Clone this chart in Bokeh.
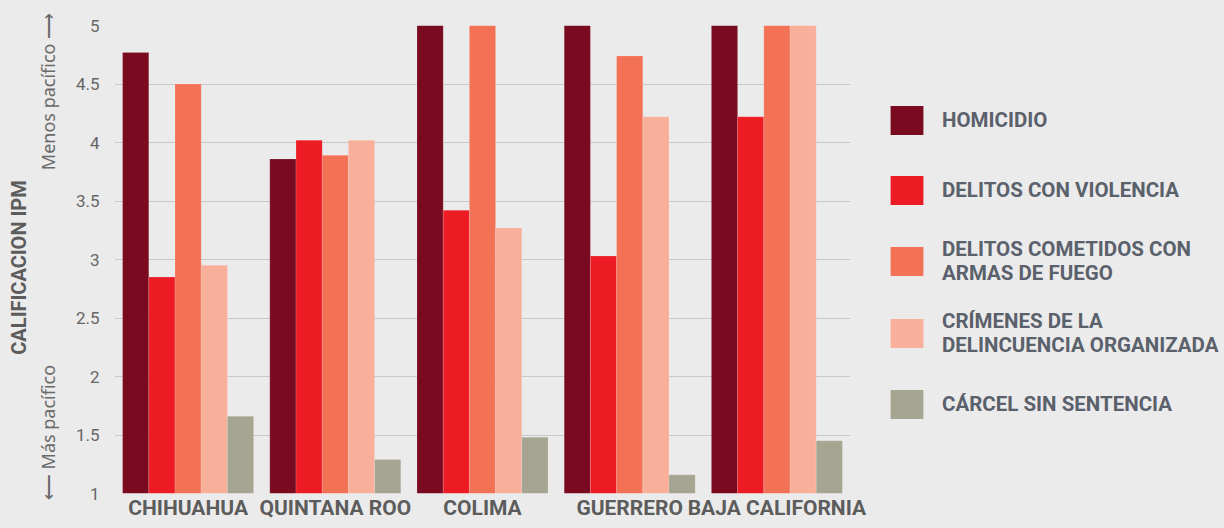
from math import pi
from bokeh.plotting import figure
from bokeh.layouts import row
from bokeh.models import (ColumnDataSource, FactorRange, Range1d, FixedTicker, Legend,
                          LegendItem, Label)
from bokeh.transform import dodge
from bokeh.embed import file_html
from bokeh.resources import INLINE

states = ["CHIHUAHUA", "QUINTANA ROO", "COLIMA", "GUERRERO", "BAJA CALIFORNIA"]
homicidio = [4.77, 3.86, 5.0, 5.0, 5.0]
violencia = [2.85, 4.02, 3.42, 3.03, 4.22]
armas = [4.50, 3.89, 5.0, 4.74, 5.0]
crimen = [2.95, 4.02, 3.27, 4.22, 5.0]
carcel = [1.66, 1.29, 1.48, 1.16, 1.45]

series_names = ["HOMICIDIO", "DELITOS CON VIOLENCIA", "DELITOS COMETIDOS CON\nARMAS DE FUEGO",
                "CRÍMENES DE LA\nDELINCUENCIA ORGANIZADA", "CÁRCEL SIN SENTENCIA"]
series_keys = ["homicidio", "violencia", "armas", "crimen", "carcel"]
colors = ["#7a0a20", "#ed1c24", "#f37155", "#f9b09a", "#a6a592"]

y_ticks = [1, 1.5, 2, 2.5, 3, 3.5, 4, 4.5, 5]
y_tick_labels = ["1", "1.5", "2", "2.5", "3", "3.5", "4", "4.5", "5"]

BG = "#ebebeb"
FONT = "Roboto"
NOTE_FONT = "Noto Sans"
H = 528

src = ColumnDataSource(dict(state=states, homicidio=homicidio, violencia=violencia,
                            armas=armas, crimen=crimen, carcel=carcel))


def plain(fig):
    fig.background_fill_color = BG
    fig.border_fill_color = BG
    fig.outline_line_color = None


# ---- left strip with axis title and direction notes
lt = figure(width=60, height=H, output_backend="svg", toolbar_location=None,
            x_range=Range1d(0, 1), y_range=Range1d(0, 1), frame_align=False,
            min_border_left=0, min_border_right=0, min_border_top=0, min_border_bottom=0)
plain(lt)
lt.axis.visible = False
lt.grid.grid_line_color = None
lt.add_layout(Label(x=18.5, y=261, x_units="screen", y_units="screen", text="CALIFICACION IPM",
                    angle=pi / 2, text_align="center", text_baseline="middle",
                    text_font=FONT, text_font_style="bold", text_font_size="20px",
                    text_color="#5c5c5c"))
lt.add_layout(Label(x=47.5, y=437, x_units="screen", y_units="screen", text="Menos pacífico \u27f6",
                    angle=pi / 2, text_align="center", text_baseline="middle",
                    text_font=NOTE_FONT, text_font_size="18px", text_color="#6a6a6a"))
lt.add_layout(Label(x=47.5, y=96, x_units="screen", y_units="screen", text="\u27f5 Más pacífico",
                    angle=pi / 2, text_align="center", text_baseline="middle",
                    text_font=NOTE_FONT, text_font_size="18px", text_color="#6a6a6a"))

# ---- main chart
p = figure(width=810, height=H, output_backend="svg", toolbar_location=None,
           x_range=FactorRange(*states, range_padding=0), y_range=Range1d(1, 5),
           frame_align=False,
           min_border_left=54, min_border_right=20, min_border_top=25, min_border_bottom=35)
plain(p)

bw = 0.178
offsets = [-2 * bw, -bw, 0, bw, 2 * bw]
for key, off, col in zip(series_keys, offsets, colors):
    p.vbar(x=dodge("state", off, range=p.x_range), top=key, bottom=1, width=bw,
           source=src, fill_color=col, line_color="white", line_alpha=0.25, line_width=0.6)

xa = p.xaxis[0]
xa.axis_line_color = None
xa.major_tick_line_color = None
xa.minor_tick_line_color = None
xa.major_tick_out = 0
xa.major_label_standoff = 2
xa.major_label_text_font = FONT
xa.major_label_text_font_style = "bold"
xa.major_label_text_font_size = "21px"
xa.major_label_text_color = "#5c5c5c"

p.xgrid.grid_line_color = None
p.ygrid.grid_line_color = "#c9c9c9"
p.ygrid.grid_line_width = 1
p.ygrid.ticker = FixedTicker(ticks=y_ticks)
ya = p.yaxis[0]
ya.ticker = FixedTicker(ticks=y_ticks)
ya.major_label_overrides = {t: l for t, l in zip(y_ticks, y_tick_labels)}
ya.axis_line_color = None
ya.major_tick_line_color = None
ya.minor_tick_line_color = None
ya.major_tick_out = 0
ya.major_label_standoff = 15
ya.major_label_text_font = FONT
ya.major_label_text_font_size = "17px"
ya.major_label_text_color = "#666666"

# ---- legend panel (same bars, kept outside its visible range; only the legend shows)
lf = figure(width=354, height=H, output_backend="svg", toolbar_location=None,
            x_range=FactorRange(*states), y_range=Range1d(0, 1), frame_align=False,
            min_border_left=0, min_border_right=0, min_border_top=0, min_border_bottom=0)
plain(lf)
lf.axis.visible = False
lf.grid.grid_line_color = None
legend_renderers = []
for key, col in zip(series_keys, colors):
    legend_renderers.append(lf.vbar(x="state", top=key, bottom=1, width=bw, source=src,
                                    fill_color=col, line_color=None))

items = [LegendItem(label=n, renderers=[r]) for n, r in zip(series_names, legend_renderers)]
legend = Legend(items=items, location=(16, 101), orientation="vertical",
                glyph_width=41, glyph_height=36, label_standoff=15, spacing=24,
                label_height=46, padding=0, margin=0, border_line_color=None,
                background_fill_alpha=0, label_text_font=FONT,
                label_text_font_style="bold", label_text_font_size="20.5px",
                label_text_color="#5a616b", label_text_line_height=1.06)
lf.add_layout(legend)

layout = row(lt, p, lf, spacing=0, styles={"background-color": BG})
open("out.html", "w").write(file_html(layout, INLINE))
